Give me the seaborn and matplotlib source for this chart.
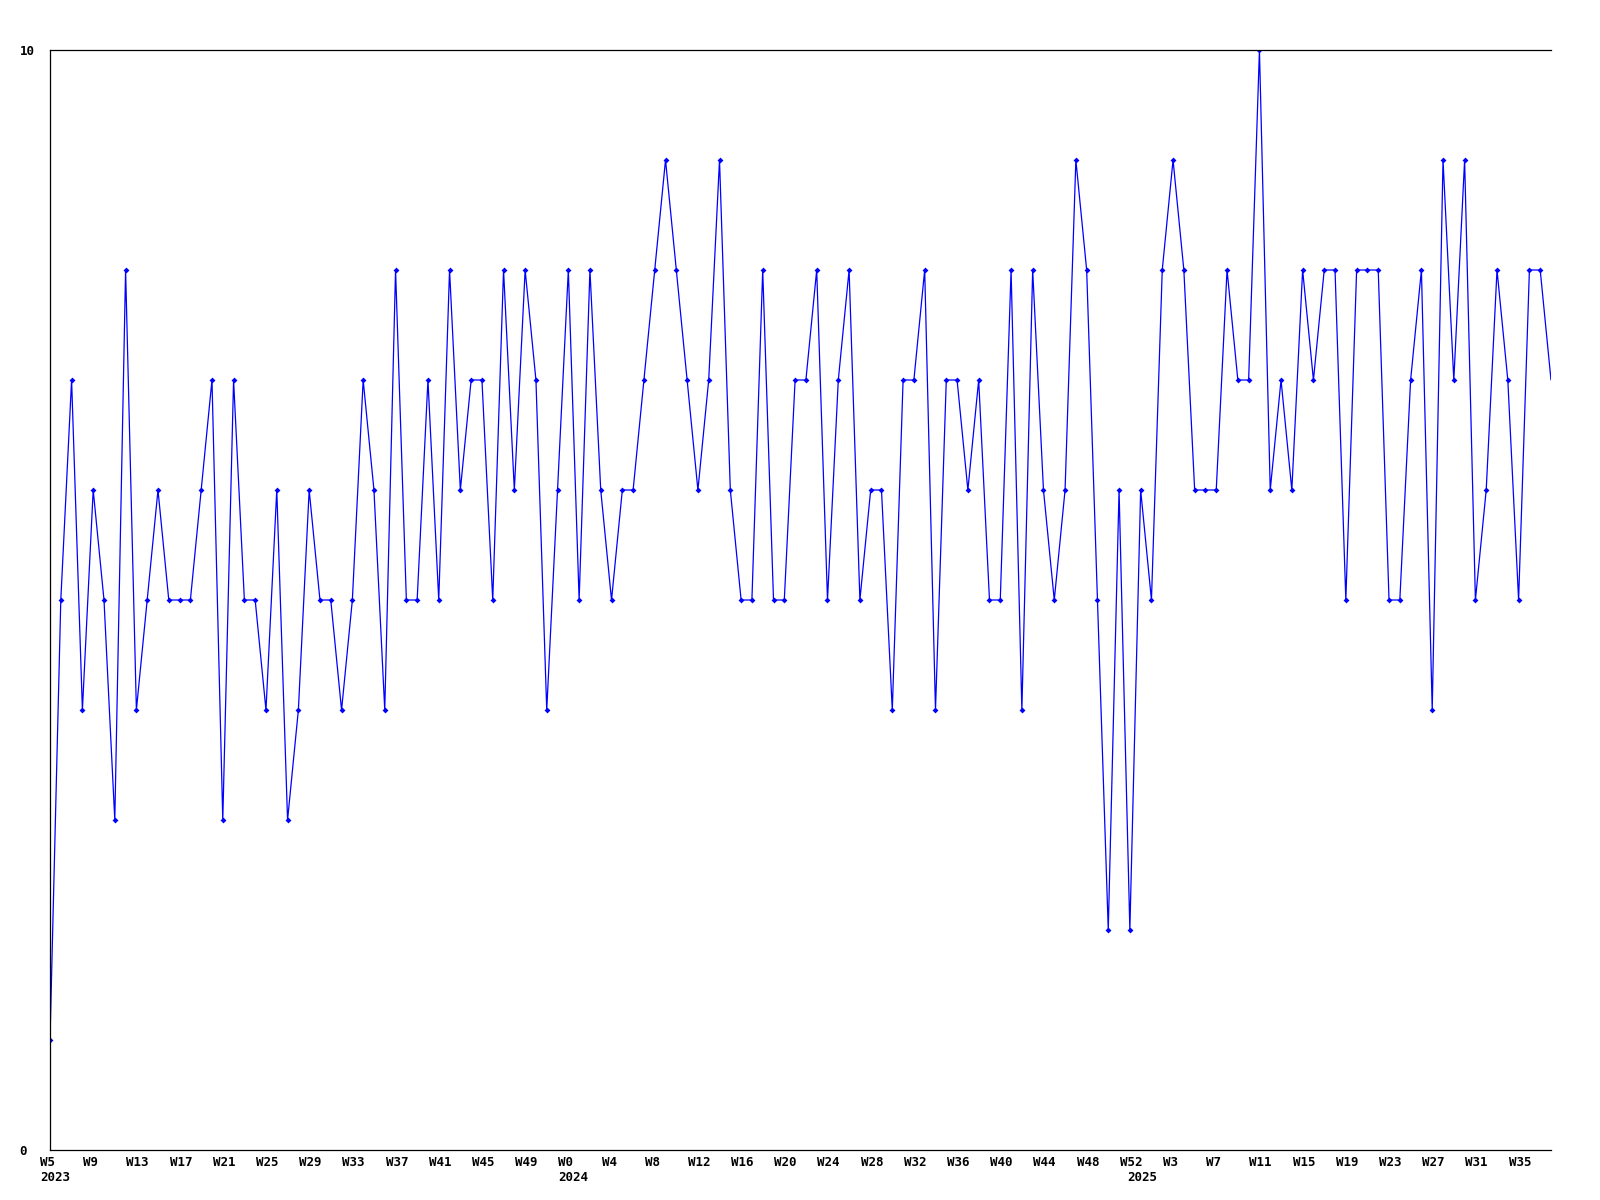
import matplotlib
matplotlib.use("Agg")
import matplotlib.pyplot as plt
import matplotlib.transforms as mtransforms
import pandas as pd
import seaborn as sns

# weekly values, 2023 W5 .. 2025 ~W38
values = [1, 5, 7, 4, 6, 5, 3, 8, 4, 5, 6, 5, 5, 5, 6, 7, 3, 7,
          5, 5, 4, 6, 3, 4, 6, 5, 5, 4, 5, 7, 6, 4, 8, 5, 5, 7,
          5, 8, 6, 7, 7, 5, 8, 6, 8, 7, 4, 6, 8, 5, 8, 6, 5,
          6, 6, 7, 8, 9, 8, 7, 6, 7, 9, 6, 5, 5, 8, 5, 5, 7, 7,
          8, 5, 7, 8, 5, 6, 6, 4, 7, 7, 8, 4, 7, 7, 6, 7, 5, 5,
          8, 4, 8, 6, 5, 6, 9, 8, 5, 2, 6, 2, 6, 5, 8, 9, 8,
          6, 6, 6, 8, 7, 7, 10, 6, 7, 6, 8, 7, 8, 8, 5, 8, 8, 8,
          5, 5, 7, 8, 4, 9, 7, 9, 5, 6, 8, 7, 5, 8, 8, 7]

week_labels = ["W5", "W9", "W13", "W17", "W21", "W25", "W29", "W33", "W37", "W41", "W45", "W49",
               "W0", "W4", "W8", "W12", "W16", "W20", "W24", "W28", "W32", "W36", "W40", "W44", "W48", "W52",
               "W3", "W7", "W11", "W15", "W19", "W23", "W27", "W31", "W35"]
year_labels = ["2023", "2024", "2025"]
year_positions = [0, 48, 100.7]

sns.set_style("white")
plt.rcParams["font.family"] = ["DejaVu Sans Mono"]

fig = plt.figure(figsize=(16, 12), dpi=100)
ax = fig.add_axes([50 / 1600, 50 / 1200, 1501 / 1600, 1100 / 1200])

df = pd.DataFrame({"idx": list(range(len(values))), "value": values})
sns.lineplot(data=df, x="idx", y="value", ax=ax, color="#0000ff", linewidth=0.9,
             marker="D", markersize=3, markeredgewidth=0,
             markevery=list(range(len(values) - 1)))

ax.set_xlim(0, len(values) - 1)
ax.set_ylim(0, 10)
ax.set_xlabel("")
ax.set_ylabel("")

for side in ["top", "left", "bottom"]:
    ax.spines[side].set_visible(True)
    ax.spines[side].set_color("black")
    ax.spines[side].set_linewidth(0.9)
ax.spines["right"].set_visible(False)

tick_pos = list(range(0, len(week_labels) * 4, 4))
ax.set_xticks(tick_pos)
ax.set_xticklabels(week_labels, fontsize=9, fontweight="bold", color="black")
ax.set_yticks([0, 10])
ax.set_yticklabels(["0", "10"], fontsize=9, fontweight="bold", color="black")
ax.tick_params(axis="x", length=0, pad=9)
ax.tick_params(axis="y", length=0, pad=22)

shift = mtransforms.ScaledTranslation(-10 / 100, 0, fig.dpi_scale_trans)
for lab in ax.get_xticklabels():
    lab.set_ha("left")
    lab.set_va("center")
    lab.set_transform(lab.get_transform() + shift)
for lab in ax.get_yticklabels():
    lab.set_ha("left")

blend = mtransforms.blended_transform_factory(ax.transData, ax.transAxes)
ytrans = blend + mtransforms.ScaledTranslation(-10 / 100, -27.3 / 100, fig.dpi_scale_trans)
for pos, lab in zip(year_positions, year_labels):
    ax.text(pos, 0, lab, transform=ytrans, ha="left", va="center",
            fontsize=9, fontweight="bold", color="black", clip_on=False)

fig.savefig("out.png", dpi=100, facecolor="white")
